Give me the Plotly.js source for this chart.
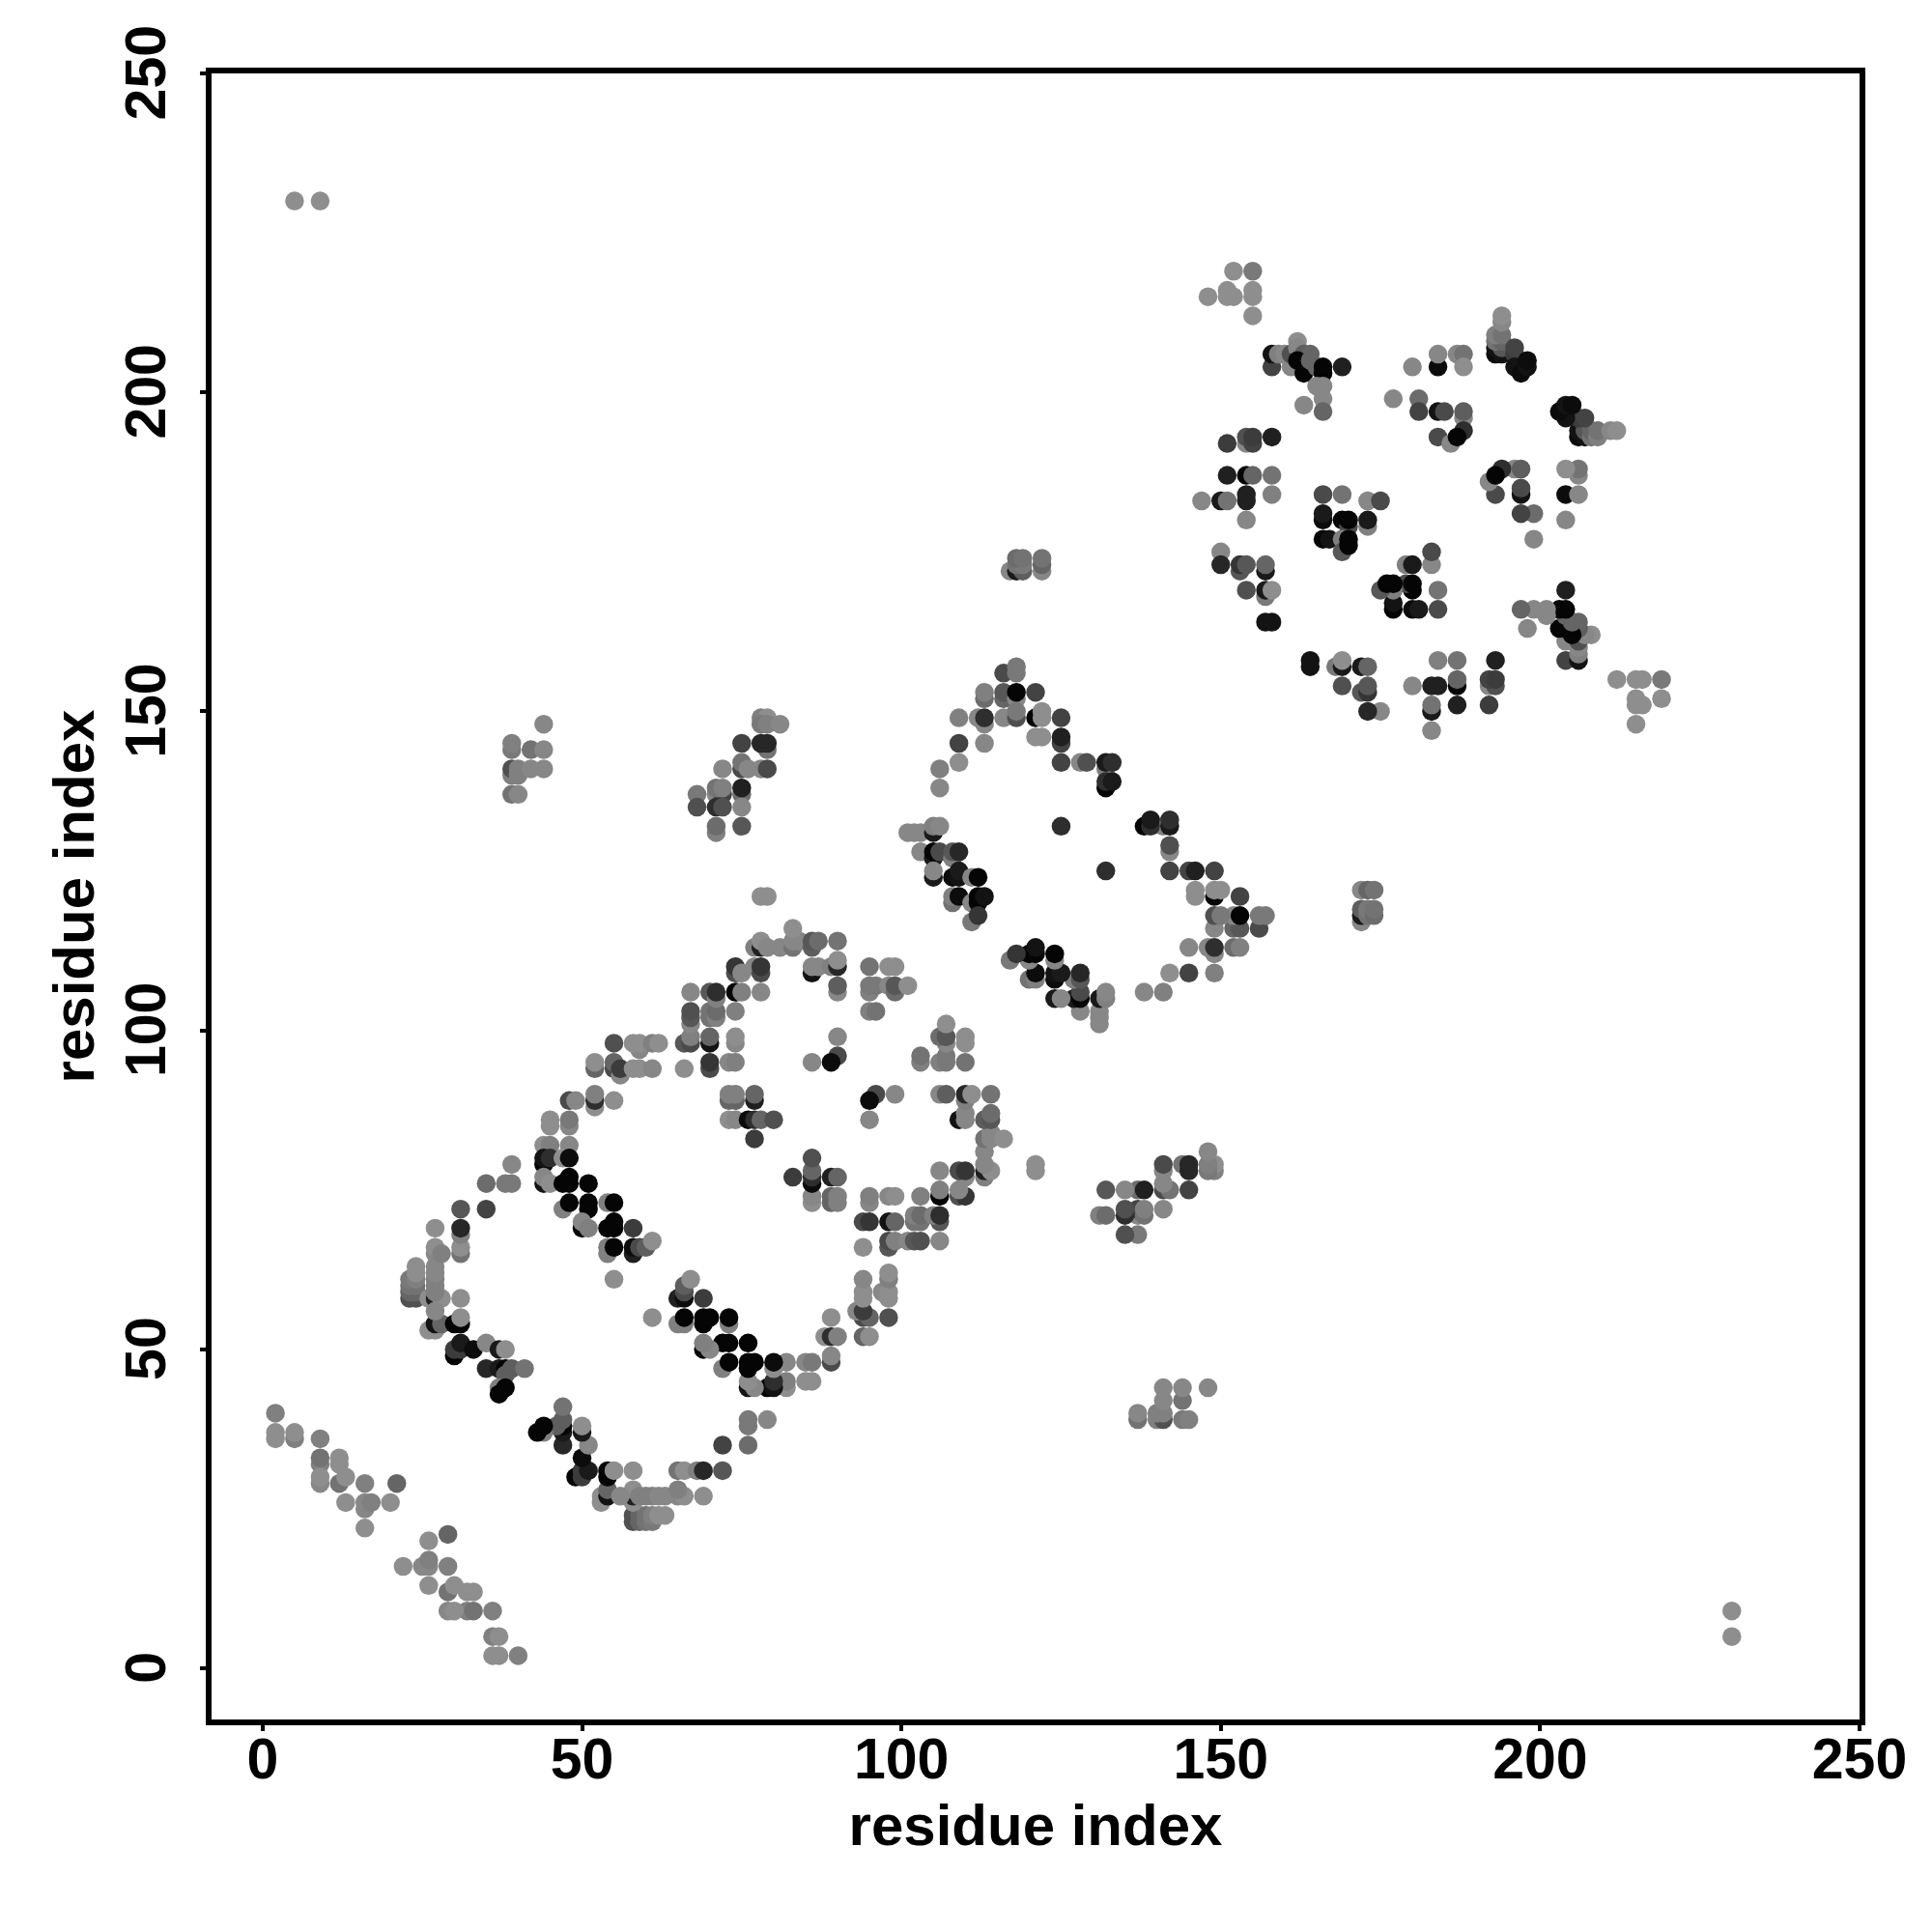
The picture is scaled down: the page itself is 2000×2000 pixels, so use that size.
<!DOCTYPE html>
<html>
<head>
<meta charset="utf-8">
<script src="https://cdn.plot.ly/plotly-3.0.1.min.js"></script>
<style>html,body{margin:0;padding:0;background:#fff}</style>
</head>
<body>
<div id="chart" style="width:2000px;height:2000px"></div>
<script>
// Each list holds [residue i, residue j, contact strength 0..1]; the map is symmetric.
const terminalContacts = [[5,230,0],[9,230,0],
[2,40,.1],[2,37,0],[2,36,0],[5,36,.1],[5,37,0],[9,36,.1],[9,32,.1],[9,33,.2],[12,32,0],[12,33,0],[9,29,.05],[9,30,0],[12,29,.2],[13,30,0],[16,29,.1],[21,29,.3],
[13,26,0],[16,25,.05],[16,26,.05],[17,26,.1],[20,26,0],[16,22,0]];
const bandLowerLeft = [[23,58,.45],[24,58,.45],[23,59,.3],[24,59,.3],[23,60,.2],[24,60,.2],[23,61,.15],[24,61,.1],[24,62,0],[24,63,0],
[26,58,0],[27,58,.8],[28,58,0],[31,58,0],[27,59,.1],[27,60,.1],[27,61,.1],[27,62,.05],[27,63,.05],[27,65,.05],[27,66,0],[28,65,.1],[27,69,0],
[31,65,.2],[31,66,0],[31,68,.1],[31,69,.75],[31,72,.4],[35,72,.55],[35,76,.25],[38,76,.15],[39,76,.15],[39,79,.05],
[26,53,0],[27,53,0],[27,54,.9],[28,54,.3],[27,56,.05],[30,54,1],[31,54,1],[31,55,0],
[30,49,1],[30,50,.6],[31,50,.6],[31,51,.85],[33,50,.95],[35,51,.05],[37,50,.85],[38,50,0],
[35,47,.75],[37,47,.85],[38,47,1],[38,46,.35],[39,47,.35],[41,47,.2],[37,44,.1],[38,44,1],[37,43,1]];
const bandCentral = [[55,98,.45],[59,97,.05],[58,98,0],[59,98,0],[61,98,.1],[62,98,0],[52,94,.3],[52,95,0],[55,94,.5],[55,95,.3],[56,93,.05],[56,94,.6],[58,94,0],[59,94,0],[61,94,.05],
[48,89,.5],[49,89,.05],[52,88,0],[52,89,.7],[52,90,.1],[55,89,0],[45,85,0],[45,86,0],[48,85,.05],[48,86,.15],
[44,82,0],[45,82,.1],[48,82,.05],[44,79,1],[44,80,.9],[45,80,.7],[47,80,0],[48,80,.95],
[44,76,.9],[44,77,.05],[45,76,0],[47,76,1],[48,76,1],[48,77,1],[51,76,1],
[47,72,.1],[48,73,1],[51,72,1],[51,73,1],[54,73,.1],[55,73,1],
[50,69,1],[50,70,.05],[51,69,.1],[54,69,1],[55,69,1],[55,70,1],[58,69,.6],
[54,65,.1],[54,66,.1],[55,66,1],[58,65,.8],[58,66,.95],[59,66,.5],[60,66,.35],[61,67,0],[55,61,0]];
const bandUpperMiddle = [[66,94,0],[66,98,.4],[67,98,.5],[67,99,.1],[67,101,.05],[67,102,.4],[67,103,.45],[67,106,.05],
[70,102,.2],[70,103,.2],[71,102,.1],[71,103,.25],[70,106,.4],[71,105,.1],[71,106,.7],[74,103,.1],[74,106,1],[75,106,.1],[78,106,.05],
[70,94,.5],[70,95,.65],[70,98,.9],[70,99,.3],[73,95,.05],[74,95,.1],[74,98,.05],[74,99,0],
[74,109,.45],[74,110,.65],[75,109,.05],[77,110,.05],[78,109,.5],[78,110,.65],
[77,113,.1],[78,113,.8],[78,114,0],[79,113,.05],[81,113,.05],[83,113,.2],[83,114,.05],[84,114,.05],[83,116,0],
[86,113,.35],[86,114,.4],[87,114,.25],[90,114,.2],[86,109,.9],[86,110,.05],[87,110,.05],[89,110,.1],[90,110,.75],[90,111,0],[90,106,.05],[90,107,.35],
[78,121,0],[79,121,0]];
const bandLoopCentre = [[73,89,.3],[74,89,.3],[73,90,.1],[74,90,.1],[77,89,.8],[77,90,.3],
[73,86,0],[74,86,.05],[76,86,.95],[77,86,.7],[78,86,.3],[80,86,.45],[77,83,.6],
[90,96,.5],[89,95,.95],[86,95,.05],[90,99,.05],
[95,103,.1],[96,103,.2],[95,106,.1],[95,107,.15],[96,107,.15],[95,110,.2],[98,107,.05],[98,110,0],[99,110,0],[99,106,.25],[99,107,.4],[101,107,0]];
const longRangeBlocks = [[44,148,.05],[39,144,.15],[39,145,.1],[42,144,.2],[44,144,.05],[39,140,.1],[39,141,.45],[40,140,.1],[40,141,.1],[42,141,.05],[44,141,.05],[39,137,.2],[40,137,.05],
[78,149,.1],[79,149,0],[78,148,.15],[79,148,.1],[81,148,.05],[75,145,.55],[79,144,.2],[78,145,.75],[79,145,.75],
[75,141,.5],[75,142,.2],[72,141,.05],[76,141,.05],[78,141,.05],[79,141,.5],
[71,137,.05],[72,137,.55],[71,138,.2],[72,138,.1],[75,137,.25],[75,138,.8],[68,137,.15],[68,135,.45],[71,135,.7],[72,135,.45],[75,135,.05],[71,131,.1],[71,132,.25],[75,132,.4],
[117,172,.05],[118,172,.85],[119,172,.35],[118,173,.2],[119,173,.15],[118,174,.25],[119,174,.2],[122,172,.05],[122,173,.3],[122,174,.2]];
const middleDomainTop = [[116,156,.5],[118,156,.15],[118,157,.15],[113,152,.25],[113,153,.1],[116,152,.3],[116,153,.4],[118,152,.05],[118,153,1],[121,153,.55],
[109,149,.1],[112,149,.05],[113,148,.05],[113,149,.7],[116,149,.05],[118,149,.45],[118,150,.15],[121,149,1],[122,149,0],[122,150,0],[125,149,.55],
[109,145,.55],[113,145,.05],[121,146,0],[122,146,0],[125,145,.55],[125,146,.8],[109,142,0],[106,141,.1],[106,138,.05],
[125,142,.55],[128,142,.05],[129,142,.45],[132,141,.1],[132,142,.85],[133,142,.7],[132,138,1],[132,139,.7],[133,139,.85],[125,132,.7]];
const middleDomainLeft = [[101,131,.05],[102,131,.05],[103,131,.05],[105,131,.85],[105,132,.1],[106,132,.05],
[103,128,.05],[105,127,.85],[105,128,1],[106,128,.5],[108,127,.1],[108,128,.4],[109,128,.75],
[105,124,.85],[105,125,.05],[108,124,.95],[109,124,.9],[109,125,.85],[111,124,.05],[112,124,1],
[108,120,.2],[108,121,.1],[109,121,.95],[111,120,.05],[112,120,1],[112,121,1],[113,121,.9],[111,117,.15],[112,118,.65]];
const cTerminalLeft = [[152,219,0],[155,219,.15],[148,215,0],[151,215,0],[151,216,0],[152,215,0],[155,215,0],[155,216,0],[155,212,0],
[151,192,.6],[154,192,.05],[154,193,.45],[155,192,.55],[155,193,.6],[158,193,.8],
[151,187,.8],[154,187,1],[155,187,.3],[158,187,.2],[147,183,.05],[150,183,.85],[151,183,.2],[154,183,.8],[154,184,.8],[158,184,.1],[154,180,.05],
[150,175,.05],[150,173,.75],[153,172,.4],[153,173,.65],[154,173,.4],[157,172,.85],[157,173,.3],[154,169,.45],[157,168,.15],[157,169,.85],[158,169,0],[157,164,.9],[158,164,.9]];
const cTerminalTop = [[158,204,.55],[158,206,.9],[159,206,.1],[160,206,.05],[161,204,.05],[161,205,.05],[161,206,.45],[162,208,0],[162,207,.05],[163,206,.35],[164,206,.3],
[162,205,1],[163,203,1],[164,205,.3],[165,204,.3],[166,203,1],[166,204,1],[169,204,.8],[165,201,.05],[166,201,.05],[166,199,.05],[163,198,.05],[166,197,.3],
[180,204,.05],[184,204,.95],[184,206,.05],[187,206,.05],[188,206,.2],[188,204,0],
[177,199,.05],[181,199,.25],[181,197,.55],[184,197,.9],[185,197,.5],[188,196,.05],[188,197,.35],[188,194,.7],[184,193,.5],[186,192,.05],[187,193,1],
[193,206,.95],[193,207,.9],[194,206,.9],[194,207,.4],[193,208,.2],[194,208,.3],[193,209,.1],[194,209,.2],[194,211,.05],[194,212,0],
[196,206,.6],[196,207,.55],[196,204,.9],[197,203,.95],[198,204,.9],[198,205,.95]];
const cTerminalCentre = [[166,184,.5],[169,184,.2],[173,183,.05],[175,183,.5],[166,180,.95],[166,181,.85],[169,180,1],[170,179,.5],[170,180,1],[173,179,.1],[173,180,.85],
[166,177,1],[167,177,.9],[169,177,.1],[169,175,.4],[170,176,1],[170,177,1]];

const contactGroups = [terminalContacts, bandLowerLeft, bandCentral, bandUpperMiddle, bandLoopCentre, longRangeBlocks,
  middleDomainTop, middleDomainLeft, cTerminalLeft, cTerminalTop, cTerminalCentre];
const tickValues = [0, 50, 100, 150, 200, 250];
const axisLabel = 'residue index';

const contacts = contactGroups.flat();
const xs = contacts.map(c => c[0]).concat(contacts.map(c => c[1]));
const ys = contacts.map(c => c[1]).concat(contacts.map(c => c[0]));
const strengths = contacts.map(c => c[2]).concat(contacts.map(c => c[2]));

const family = '"Liberation Sans", Arial, sans-serif';
const tickFont = {family: family, size: 59, color: '#000', weight: 700};
const titleFont = {family: family, size: 60, color: '#000', weight: 700};
function axis(extra) {
  return Object.assign({
    range: [-8, 250], autorange: false, tickmode: 'array', tickvals: tickValues, ticktext: tickValues.map(String),
    showgrid: false, zeroline: false, showline: true, mirror: true, linecolor: '#000', linewidth: 6,
    ticks: 'outside', ticklen: 6, tickwidth: 4, tickcolor: '#000', tickfont: tickFont
  }, extra);
}
Plotly.newPlot('chart', [{
  type: 'scatter', mode: 'markers', x: xs, y: ys, cliponaxis: true,
  marker: {size: 19.5, color: strengths, cmin: 0, cmax: 1, showscale: false,
    colorscale: [[0, '#8e8e8e'], [1, '#050505']], line: {width: 0}, opacity: 1}
}], {
  width: 2000, height: 2000, showlegend: false, paper_bgcolor: '#fff', plot_bgcolor: '#fff',
  margin: {l: 219, r: 75, t: 76, b: 220, pad: 0},
  xaxis: axis({title: {text: axisLabel, font: titleFont, standoff: 17}, ticklabelstandoff: -22}),
  yaxis: axis({title: {text: axisLabel, font: titleFont, standoff: 3}, tickangle: -90, ticklabelstandoff: 12, ticklabelshift: 8})
}, {displayModeBar: false, staticPlot: true});
</script>
</body>
</html>
